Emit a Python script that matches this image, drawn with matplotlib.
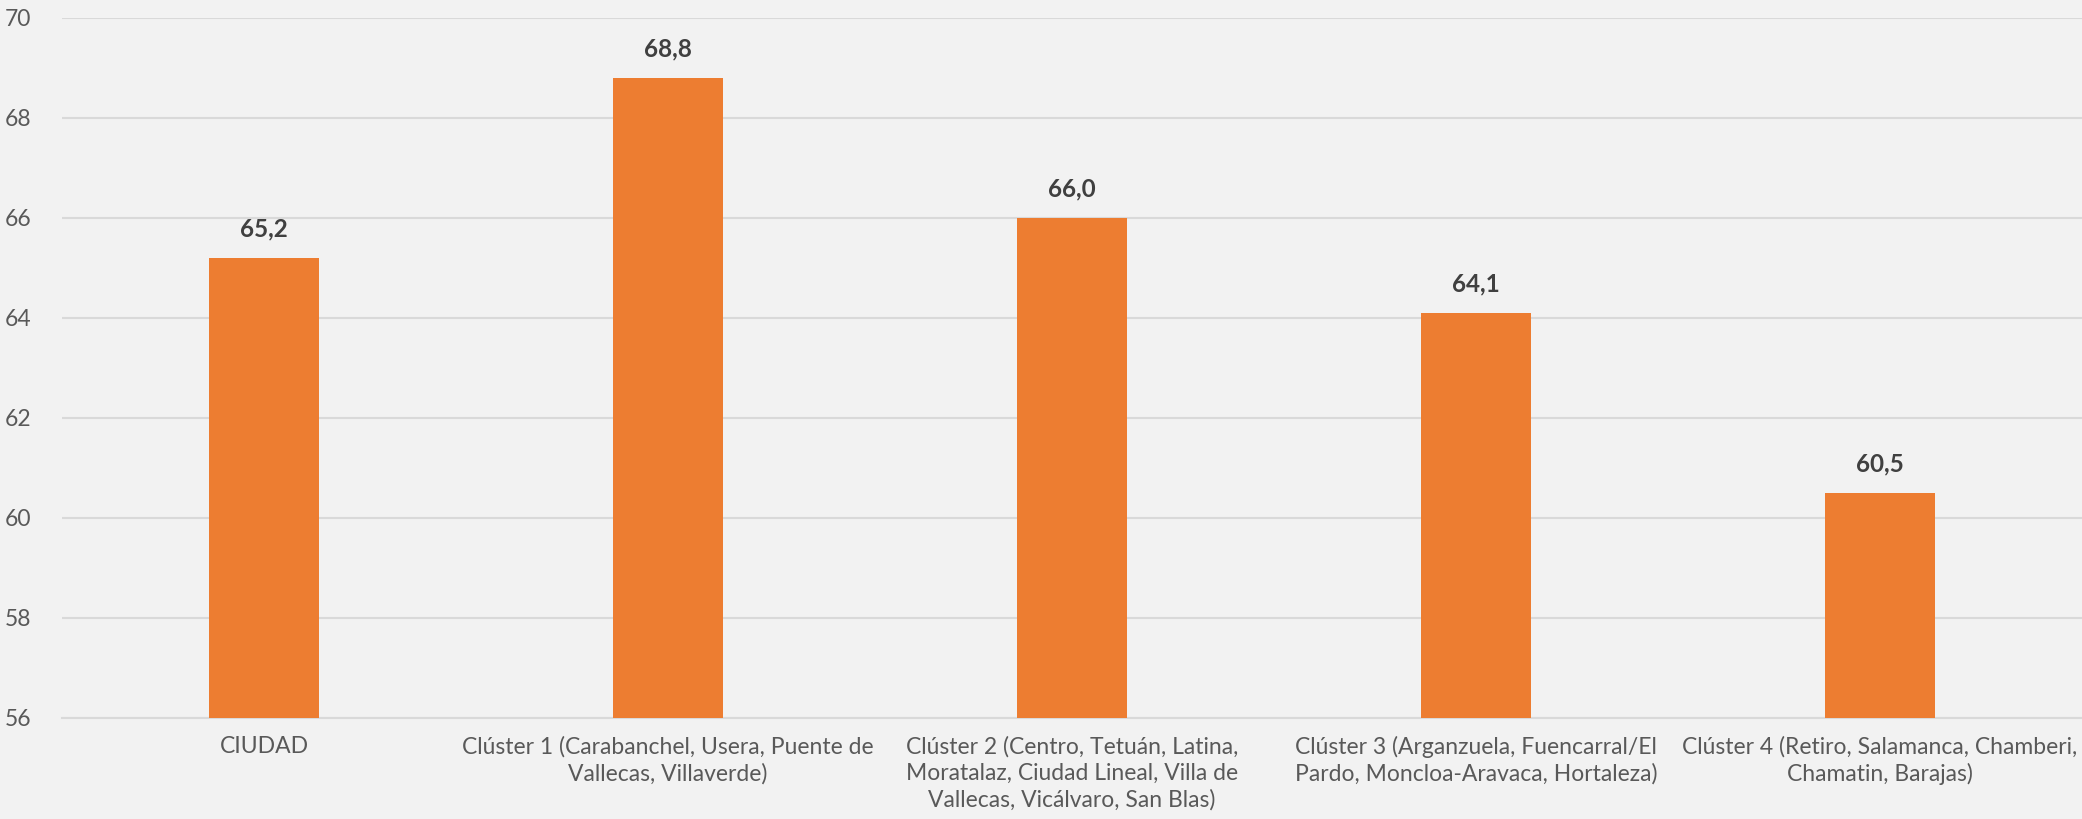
import matplotlib.pyplot as plt

# data
categories = [
    "CIUDAD",
    "Clúster 1 (Carabanchel, Usera, Puente de\nVallecas, Villaverde)",
    "Clúster 2 (Centro, Tetuán, Latina,\nMoratalaz, Ciudad Lineal, Villa de\nVallecas, Vicálvaro, San Blas)",
    "Clúster 3 (Arganzuela, Fuencarral/El\nPardo, Moncloa-Aravaca, Hortaleza)",
    "Clúster 4 (Retiro, Salamanca, Chamberi,\nChamatin, Barajas)",
]
values = [65.2, 68.8, 66.0, 64.1, 60.5]
yticks = [56, 58, 60, 62, 64, 66, 68, 70]

bg = "#F2F2F2"
plt.rcParams['font.family'] = ['Lato', 'DejaVu Sans']

fig = plt.figure(figsize=(20.82, 8.19), dpi=100, facecolor=bg)
ax = fig.add_axes([62 / 2082, 1 - 718 / 819, 2020 / 2082, 700 / 819])
ax.set_facecolor(bg)

x = range(len(categories))
bars = ax.bar(x, values, width=0.27, color="#ED7D31", zorder=3)

for b, v in zip(bars, values):
    ax.annotate(f"{v:.1f}".replace(".", ","),
                (b.get_x() + b.get_width() / 2, v),
                xytext=(0, 13), textcoords="offset points",
                ha="center", va="bottom", fontsize=17.5, fontweight="bold",
                color="#404040")

ax.set_xlim(-0.5, len(categories) - 0.5)
ax.set_ylim(56, 70)
ax.set_yticks(yticks)
ax.set_xticks(list(x))
ax.set_xticklabels(categories, fontsize=16.5, color="#595959", linespacing=1.3)
ax.tick_params(axis="y", labelsize=16.5, labelcolor="#595959", length=0, pad=22)
ax.tick_params(axis="x", length=0, pad=13)
ax.grid(axis="y", color="#D9D9D9", linewidth=1.5, zorder=0)
for s in ["top", "right", "left"]:
    ax.spines[s].set_visible(False)
ax.spines["bottom"].set_color("#D9D9D9")
ax.spines["bottom"].set_linewidth(1.5)

plt.savefig("out.png", dpi=100, facecolor=bg)
